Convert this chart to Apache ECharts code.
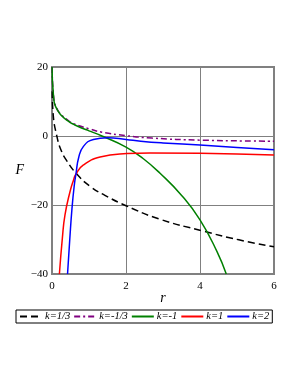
<!DOCTYPE html>
<html><head><meta charset="utf-8">
<script src="https://cdn.jsdelivr.net/npm/echarts@6/dist/echarts.min.js"></script>
<style>html,body{margin:0;padding:0;background:#fff}#c{width:298px;height:385px}</style>
</head><body><div id="c"></div>
<script>
var xTicks = [0, 2, 4, 6];
var yTicks = [-40, -20, 0, 20];
var seriesNames = ['k=1/3', 'k=-1/3', 'k=-1', 'k=1', 'k=2'];
var kOneThird = [[0.006,13],[0.03,6.5],[0.13,0],[0.26,-4.5],[0.4,-7.2],[0.65,-10.8],[1.03,-14.6],[1.43,-17.2],[2,-20.2],[2.88,-24.0],[4.1,-27.6],[5.05,-30.1],[6,-32.1]];
var kMinusOneThird = [[0.002,20],[0.035,12.5],[0.15,7.6],[0.44,4.5],[0.62,3.4],[1.0,2.1],[1.35,1.1],[2,0.1],[2.7,-0.6],[4,-1.2],[6,-1.5]];
var kMinusOne = [[0.002,20],[0.035,12.4],[0.15,7.4],[0.44,4.3],[0.62,3.2],[0.8,2.3],[1.0,1.5],[1.35,0],[2,-3.2],[2.47,-6.6],[2.92,-10.8],[3.51,-17.3],[4,-24.3],[4.46,-33.5],[4.71,-40]];
var kOne = [[0.2,-40],[0.28,-29.6],[0.35,-22.9],[0.49,-16.0],[0.58,-12.8],[0.65,-11],[0.85,-8.4],[1.3,-6.1],[2.02,-5.1],[2.65,-4.9],[4,-5.0],[6,-5.5]];
var kTwo = [[0.42,-40],[0.48,-30],[0.54,-21],[0.6,-14.5],[0.65,-10.8],[0.72,-6.3],[0.85,-3],[1.12,-1.0],[1.5,-0.5],[2,-1.0],[2.4,-1.5],[3,-2.0],[4,-2.6],[5,-3.3],[6,-4.0]];

var chart = echarts.init(document.getElementById('c'));
function mk(name, data, color, type) {
  return {name: name, type: 'line', data: data, showSymbol: false, symbol: 'none',
    smooth: 0.5, clip: true,
    lineStyle: {color: color, width: 1.5, type: type}, itemStyle: {color: color}};
}
chart.setOption({
  animation: false,
  textStyle: {fontFamily: 'Liberation Serif'},
  grid: {left: 52, right: 24, top: 67, bottom: 111, show: true, borderColor: '#808080', borderWidth: 2},
  xAxis: {type: 'value', min: 0, max: 6, interval: 2,
    name: 'r', nameLocation: 'middle', nameGap: 17, nameMoveOverlap: false,
    nameTextStyle: {fontFamily: 'Liberation Serif', fontStyle: 'italic', fontSize: 14, color: '#000'},
    axisLine: {show: false}, axisTick: {show: false},
    axisLabel: {color: '#000', fontSize: 11, margin: 7, fontFamily: 'Liberation Serif',
      formatter: function(v){ return xTicks.indexOf(v) >= 0 ? String(v) : ''; }},
    splitLine: {show: true, lineStyle: {color: '#808080', width: 1}}},
  yAxis: {type: 'value', min: -40, max: 20, interval: 20,
    name: 'F', nameLocation: 'middle', nameRotate: 0, nameGap: 28, nameMoveOverlap: false,
    nameTextStyle: {fontFamily: 'Liberation Serif', fontStyle: 'italic', fontSize: 14, color: '#000'},
    axisLine: {show: false}, axisTick: {show: false},
    axisLabel: {color: '#000', fontSize: 11, margin: 4, fontFamily: 'Liberation Serif',
      formatter: function(v){ return yTicks.indexOf(v) >= 0 ? (v < 0 ? '\u2212' + (-v) : String(v)) : ''; }},
    splitLine: {show: true, lineStyle: {color: '#808080', width: 1}}},
  legend: {bottom: 62, left: 16, itemWidth: 22, itemHeight: 10, itemGap: 3,
    padding: [1, 3], borderColor: '#000', borderWidth: 1,
    itemStyle: {opacity: 0},
    textStyle: {fontFamily: 'Liberation Serif', fontStyle: 'italic', fontSize: 10.5, color: '#000', padding: [0,0,0,-2]},
    data: seriesNames},
  series: [
    mk(seriesNames[0], kOneThird, '#000000', [7, 4]),
    mk(seriesNames[1], kMinusOneThird, '#800080', [6, 3, 2, 3]),
    mk(seriesNames[2], kMinusOne, '#008000', 'solid'),
    mk(seriesNames[3], kOne, '#ff0000', 'solid'),
    mk(seriesNames[4], kTwo, '#0000ff', 'solid')
  ]
});
</script></body></html>
